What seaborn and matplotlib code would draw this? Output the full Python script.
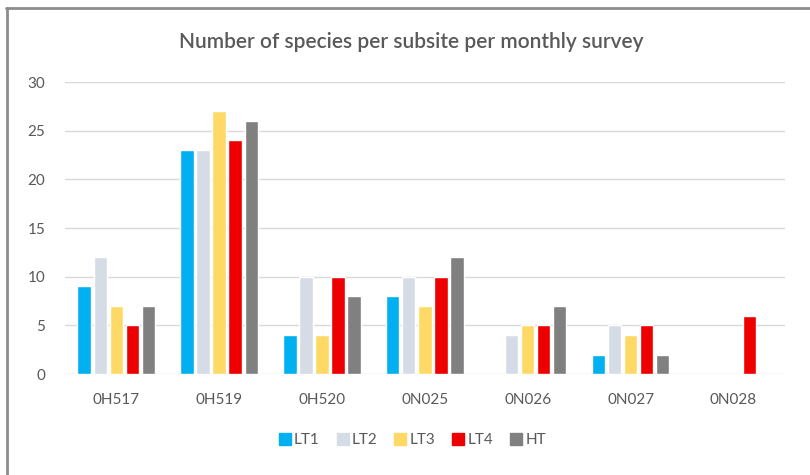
import matplotlib
matplotlib.use("Agg")
import matplotlib.pyplot as plt
from matplotlib.lines import Line2D
import seaborn as sns
import pandas as pd

# Subsites and species counts for each survey series
sites = ["0H517", "0H519", "0H520", "0N025", "0N026", "0N027", "0N028"]
series = ["LT1", "LT2", "LT3", "LT4", "HT"]
lt1 = [9, 23, 4, 8, 0, 2, 0]
lt2 = [12, 23, 10, 10, 4, 5, 0]
lt3 = [7, 27, 4, 7, 5, 4, 0]
lt4 = [5, 24, 10, 10, 5, 5, 6]
ht = [7, 26, 8, 12, 7, 2, 0]
yticks = [0, 5, 10, 15, 20, 25, 30]

colors = ["#00B0F0", "#D6DCE5", "#FFD966", "#EE0000", "#808080"]

rows = []
for name, vals in zip(series, [lt1, lt2, lt3, lt4, ht]):
    for site, v in zip(sites, vals):
        rows.append({"site": site, "series": name, "count": v})
df = pd.DataFrame(rows)

sns.set_theme(style="white")
plt.rcParams["font.family"] = ["Lato", "DejaVu Sans"]

txt = "#595959"
fig = plt.figure(figsize=(8.1, 4.75), dpi=100)
ax = fig.add_axes([0.080, 0.2126, 0.889, 0.6147])

sns.barplot(data=df, x="site", y="count", hue="series", order=sites,
            hue_order=series, palette=colors, width=0.78, gap=0.17,
            saturation=1, legend=False, ax=ax)

ax.set_ylim(0, 30)
ax.set_xlim(-0.5, len(sites) - 0.5)
ax.set_yticks(yticks)
ax.set_yticklabels([str(t) for t in yticks])
for t in yticks:
    ax.axhline(t, color="#D9D9D9", lw=1.0, zorder=0)
ax.set_axisbelow(True)
for s in ax.spines.values():
    s.set_visible(False)
ax.set_xlabel("")
ax.set_ylabel("")
ax.tick_params(axis="y", length=0, pad=14, labelsize=11, labelcolor=txt)
ax.tick_params(axis="x", length=0, pad=14, labelsize=11, labelcolor=txt)

fig.text(0.508, 0.912, "Number of species per subsite per monthly survey",
         ha="center", va="center", fontsize=15, color=txt, fontweight="semibold")

handles = [Line2D([], [], marker="s", linestyle="none", markersize=8,
                  markerfacecolor=c, markeredgecolor=c) for c in colors]
fig.legend(handles, series, loc="center", bbox_to_anchor=(0.508, 0.073),
           ncol=5, frameon=False, fontsize=11, labelcolor=txt,
           handletextpad=0.1, columnspacing=1.0, handlelength=1.0)

# outer chart frame (top and left edges)
fig.add_artist(Line2D([6 / 810, 1.0], [1 - 8 / 475, 1 - 8 / 475],
                      transform=fig.transFigure, color="#8C8C8C", lw=2))
fig.add_artist(Line2D([7 / 810, 7 / 810], [0, 1 - 8 / 475],
                      transform=fig.transFigure, color="#8C8C8C", lw=2))

fig.savefig("out.png", dpi=100, facecolor="white")
